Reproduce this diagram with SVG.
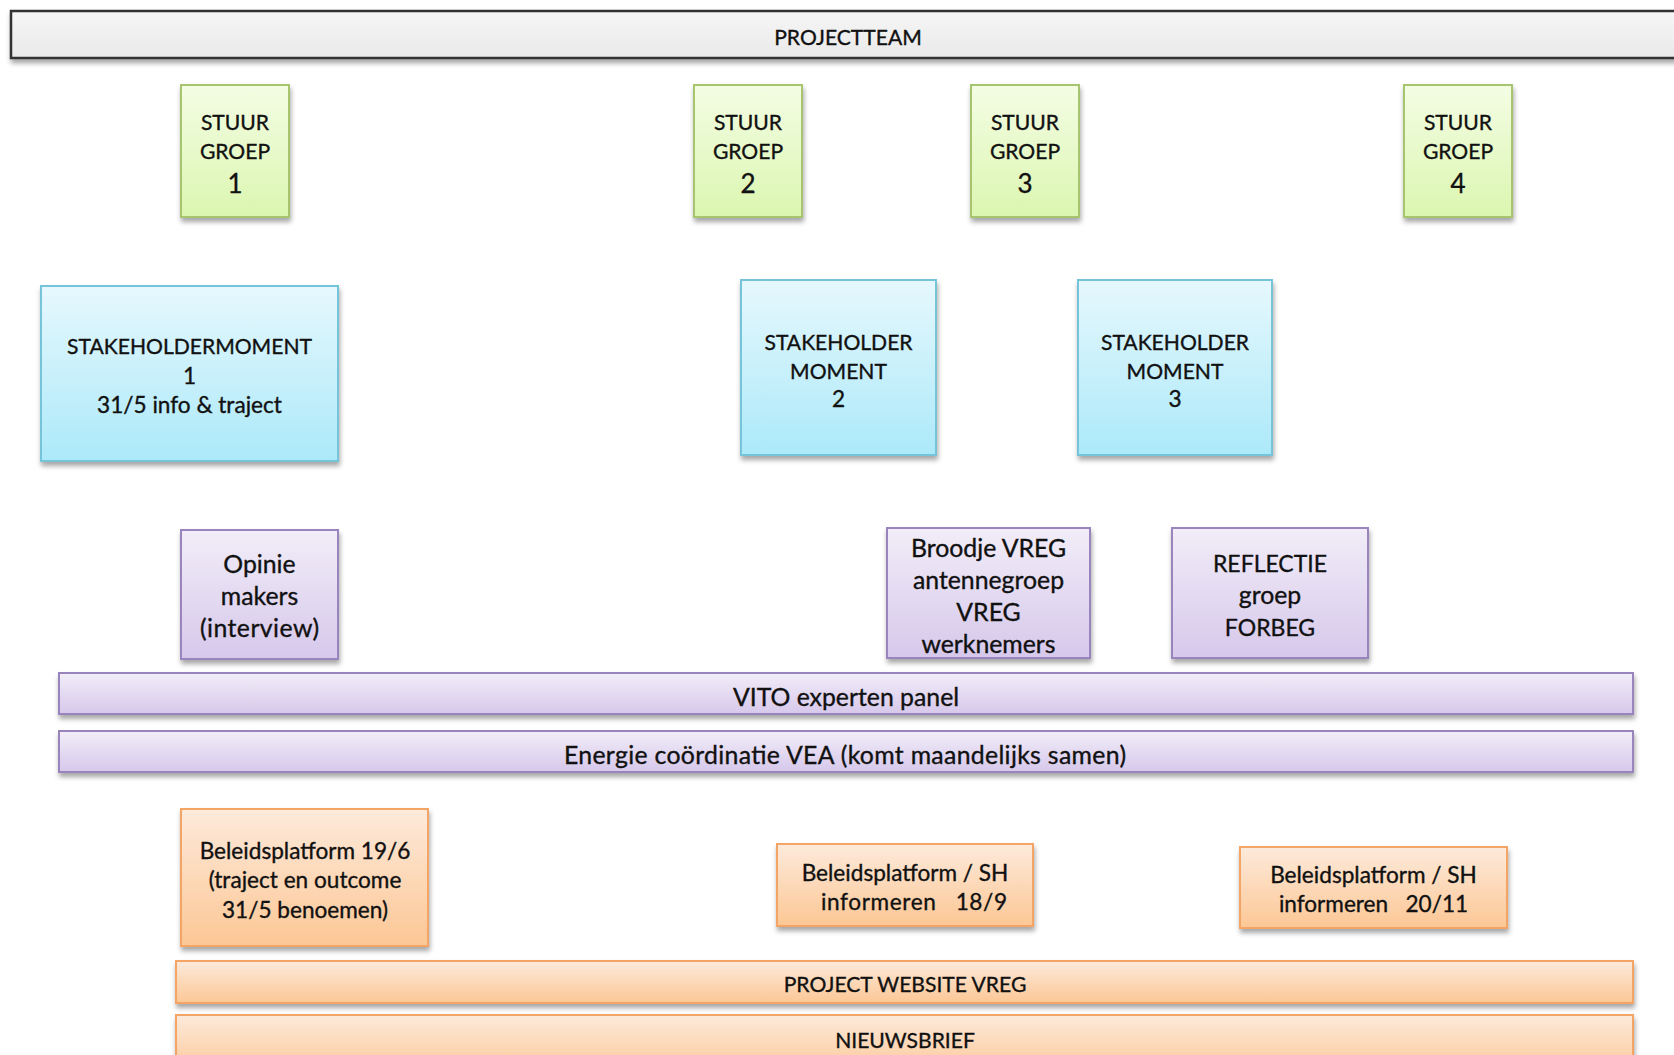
<svg xmlns="http://www.w3.org/2000/svg" width="1674" height="1055" viewBox="0 0 1674 1055">
<defs>
<linearGradient id="gGray" x1="0" y1="0" x2="0" y2="1"><stop offset="0" stop-color="#f6f6f6"/><stop offset="1" stop-color="#e9e9e9"/></linearGradient>
<linearGradient id="gGreen" x1="0" y1="0" x2="0" y2="1"><stop offset="0" stop-color="#f4fde4"/><stop offset="1" stop-color="#dbf6b0"/></linearGradient>
<linearGradient id="gBlue" x1="0" y1="0" x2="0" y2="1"><stop offset="0" stop-color="#e6f8fd"/><stop offset="1" stop-color="#ace9f9"/></linearGradient>
<linearGradient id="gPurple" x1="0" y1="0" x2="0" y2="1"><stop offset="0" stop-color="#f2edf8"/><stop offset="1" stop-color="#d6c8eb"/></linearGradient>
<linearGradient id="gOrange" x1="0" y1="0" x2="0" y2="1"><stop offset="0" stop-color="#fdeadb"/><stop offset="1" stop-color="#fcc795"/></linearGradient>
<filter id="sh" x="-10%" y="-10%" width="120%" height="140%">
<feDropShadow dx="1" dy="4" stdDeviation="2.5" flood-color="#000" flood-opacity="0.35"/>
</filter>
</defs>
<style>
text{font-family:Lato,"Liberation Sans",sans-serif;fill:#111;stroke:#111;stroke-width:0.35px;text-anchor:middle;white-space:pre;}
.t{font-size:22.6px;}
.c{font-size:21.1px;}
.p{font-size:24.8px;}
.pc{font-size:23px;}
.n{font-size:26px;}
.gray{fill:url(#gGray);stroke:#333;stroke-width:2.5;}
.green{fill:url(#gGreen);stroke:#a7c46e;stroke-width:2;filter:url(#sh);}
.blue{fill:url(#gBlue);stroke:#74c4d9;stroke-width:2;filter:url(#sh);}
.purple{fill:url(#gPurple);stroke:#9984bd;stroke-width:2;filter:url(#sh);}
.orange{fill:url(#gOrange);stroke:#f4a566;stroke-width:2;filter:url(#sh);}
</style>
<rect width="1674" height="1055" fill="#ffffff"/>
<g id="connectors"></g>

<g id="projectteam">
<rect class="gray" x="11" y="11" width="1690" height="47" filter="url(#sh)"/>
<text class="c" x="848" y="45">PROJECTTEAM</text>
</g>

<g id="stuurgroep1">
<rect class="green" x="181" y="85" width="108" height="132"/>
<text class="c" x="235" y="130">STUUR</text>
<text class="c" x="235" y="159">GROEP</text>
<text class="n" x="235" y="193">1</text>
</g>
<g id="stuurgroep2">
<rect class="green" x="694" y="85" width="108" height="132"/>
<text class="c" x="748" y="130">STUUR</text>
<text class="c" x="748" y="159">GROEP</text>
<text class="n" x="748" y="193">2</text>
</g>
<g id="stuurgroep3">
<rect class="green" x="971" y="85" width="108" height="132"/>
<text class="c" x="1025" y="130">STUUR</text>
<text class="c" x="1025" y="159">GROEP</text>
<text class="n" x="1025" y="193">3</text>
</g>
<g id="stuurgroep4">
<rect class="green" x="1404" y="85" width="108" height="132"/>
<text class="c" x="1458" y="130">STUUR</text>
<text class="c" x="1458" y="159">GROEP</text>
<text class="n" x="1458" y="193">4</text>
</g>

<g id="stakeholder1">
<rect class="blue" x="41" y="286" width="297" height="175"/>
<text class="c" x="189.5" y="354">STAKEHOLDERMOMENT</text>
<text class="t" x="189.5" y="384">1</text>
<text class="t" x="189.5" y="413">31/5 info &amp; traject</text>
</g>
<g id="stakeholder2">
<rect class="blue" x="741" y="280" width="195" height="175"/>
<text class="c" x="838.5" y="350">STAKEHOLDER</text>
<text class="c" x="838.5" y="379">MOMENT</text>
<text class="t" x="838.5" y="407">2</text>
</g>
<g id="stakeholder3">
<rect class="blue" x="1078" y="280" width="194" height="175"/>
<text class="c" x="1175" y="350">STAKEHOLDER</text>
<text class="c" x="1175" y="379">MOMENT</text>
<text class="t" x="1175" y="407">3</text>
</g>

<g id="opinie">
<rect class="purple" x="181" y="530" width="157" height="129"/>
<text class="p" x="259.5" y="573">Opinie</text>
<text class="p" x="259.5" y="605">makers</text>
<text class="p" x="259.5" y="637" textLength="119" lengthAdjust="spacing">(interview)</text>
</g>
<g id="broodje">
<rect class="purple" x="887" y="528" width="203" height="130"/>
<text class="p" x="988.5" y="557">Broodje VREG</text>
<text class="p" x="988.5" y="589">antennegroep</text>
<text class="p" x="988.5" y="621">VREG</text>
<text class="p" x="988.5" y="653">werknemers</text>
</g>
<g id="reflectie">
<rect class="purple" x="1172" y="528" width="196" height="130"/>
<text class="pc" x="1270" y="572">REFLECTIE</text>
<text class="p" x="1270" y="604">groep</text>
<text class="pc" x="1270" y="636">FORBEG</text>
</g>
<g id="vito">
<rect class="purple" x="59" y="673" width="1574" height="41"/>
<text class="p" x="846" y="706">VITO experten panel</text>
</g>
<g id="energie">
<rect class="purple" x="59" y="731" width="1574" height="41"/>
<text class="p" x="845" y="764" textLength="562" lengthAdjust="spacing">Energie coördinatie VEA (komt maandelijks samen)</text>
</g>

<g id="beleid1">
<rect class="orange" x="181" y="809" width="247" height="137"/>
<text class="t" x="305" y="859">Beleidsplatform 19/6</text>
<text class="t" x="305" y="888">(traject en outcome</text>
<text class="t" x="305" y="918">31/5 benoemen)</text>
</g>
<g id="beleid2">
<rect class="orange" x="777" y="844" width="256" height="82"/>
<text class="t" x="905" y="881">Beleidsplatform / SH</text>
<text class="t" x="914" y="910" textLength="186" lengthAdjust="spacing">informeren   18/9</text>
</g>
<g id="beleid3">
<rect class="orange" x="1240" y="847" width="267" height="81"/>
<text class="t" x="1373.5" y="883">Beleidsplatform / SH</text>
<text class="t" x="1373.5" y="912">informeren   20/11</text>
</g>
<g id="website">
<rect class="orange" x="176" y="961" width="1457" height="42"/>
<text class="c" x="905" y="992">PROJECT WEBSITE VREG</text>
</g>
<g id="nieuwsbrief">
<rect class="orange" x="176" y="1015" width="1457" height="60"/>
<text class="c" x="905" y="1048">NIEUWSBRIEF</text>
</g>
</svg>
